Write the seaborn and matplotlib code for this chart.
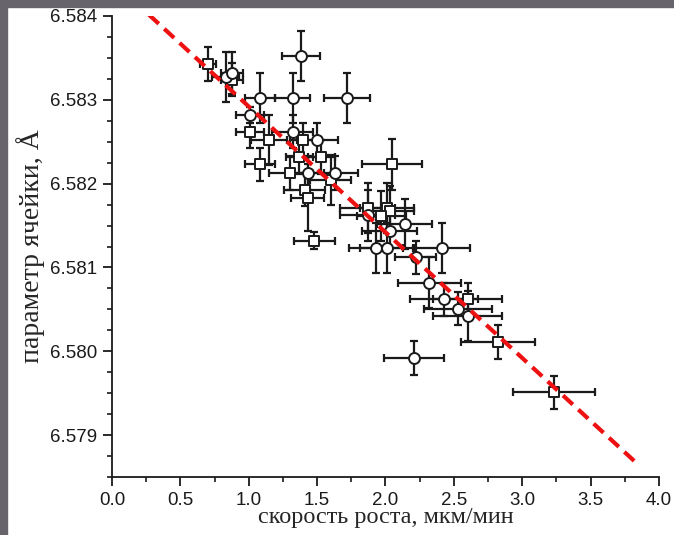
import numpy as np
import pandas as pd
import matplotlib
matplotlib.use('Agg')
import matplotlib.pyplot as plt
from matplotlib.patches import Rectangle
from matplotlib.ticker import MultipleLocator, FormatStrFormatter
import seaborn as sns

# квадраты
sq_x = [0.70, 0.88, 1.01, 1.15, 1.40, 1.37, 1.53, 1.08, 1.30, 1.41, 1.43, 1.48,
        2.05, 1.60, 1.87, 2.01, 2.03, 1.97, 2.60, 2.82, 3.23]
sq_y = [6.58343, 6.58324, 6.58262, 6.58252, 6.58252, 6.58232, 6.58232, 6.58223,
        6.58213, 6.58193, 6.58183, 6.58132, 6.58223, 6.58204, 6.58171, 6.58171,
        6.58167, 6.58161, 6.58062, 6.58011, 6.57951]
sq_xerr = [0.06, 0.08, 0.10, 0.13, 0.10, 0.10, 0.10, 0.11, 0.15, 0.15, 0.12, 0.15,
           0.22, 0.15, 0.20, 0.20, 0.18, 0.18, 0.25, 0.27, 0.30]
sq_yerr = [0.0002, 0.0002, 0.0002, 0.0003, 0.0002, 0.0002, 0.0002, 0.0002,
           0.0002, 0.0002, 0.0004, 0.0001, 0.0003, 0.0003, 0.0003, 0.0003,
           0.0003, 0.0003, 0.0002, 0.0002, 0.0002]

# кружки
ci_x = [0.83, 0.88, 1.38, 1.08, 1.32, 1.72, 1.01, 1.32, 1.50, 1.43, 1.63, 1.87,
        2.14, 2.03, 1.93, 2.01, 2.41, 2.22, 2.32, 2.43, 2.53, 2.60, 2.21]
ci_y = [6.58327, 6.58332, 6.58352, 6.58302, 6.58302, 6.58302, 6.58282, 6.58262,
        6.58252, 6.58213, 6.58213, 6.58162, 6.58152, 6.58143, 6.58123, 6.58123,
        6.58123, 6.58112, 6.58082, 6.58062, 6.58051, 6.58042, 6.57992]
ci_xerr = [0.10, 0.08, 0.14, 0.11, 0.13, 0.17, 0.10, 0.15, 0.15, 0.12, 0.17, 0.20,
           0.20, 0.20, 0.20, 0.20, 0.21, 0.15, 0.23, 0.25, 0.25, 0.25, 0.22]
ci_yerr = [0.0003, 0.00025, 0.0003, 0.0003, 0.0003, 0.0003, 0.0001, 0.0002,
           0.0002, 0.0002, 0.0002, 0.0003, 0.0003, 0.0002, 0.0003, 0.0003,
           0.0003, 0.0002, 0.0003, 0.0002, 0.0002, 0.0003, 0.0002]

# линейная аппроксимация
fit_x = [0.27, 3.82]
fit_a, fit_b = 6.58442, -0.0015

sns.set_style('ticks')
plt.rcParams['font.family'] = ['Liberation Sans', 'DejaVu Sans']

fig = plt.figure(figsize=(6.74, 5.35), dpi=100)
ax = fig.add_axes([0.1662, 0.1084, 0.8115, 0.8617])

for xs, ys, xe, ye in [(sq_x, sq_y, sq_xerr, sq_yerr), (ci_x, ci_y, ci_xerr, ci_yerr)]:
    ax.errorbar(xs, ys, xerr=xe, yerr=ye, fmt='none', ecolor='#1a1a1a',
                elinewidth=1.6, capsize=3, capthick=1.6, zorder=2)

sq = pd.DataFrame({'x': sq_x, 'y': sq_y})
ci = pd.DataFrame({'x': ci_x, 'y': ci_y})
sns.scatterplot(data=sq, x='x', y='y', marker='s', s=45, color='white',
                edgecolor='#1a1a1a', linewidth=1.4, ax=ax, zorder=3)
sns.scatterplot(data=ci, x='x', y='y', marker='o', s=62, color='white',
                edgecolor='#1a1a1a', linewidth=1.4, ax=ax, zorder=3)

fit = pd.DataFrame({'x': fit_x, 'y': [fit_a + fit_b * v for v in fit_x]})
sns.lineplot(data=fit, x='x', y='y', color='#ee1111', linewidth=3.0,
             dashes=False, ax=ax, zorder=4)
ax.lines[-1].set_linestyle((0, (3.2, 1.8)))

ax.set_xlim(0, 4)
ax.set_ylim(6.5785, 6.584)
ax.xaxis.set_major_locator(MultipleLocator(0.5))
ax.xaxis.set_minor_locator(MultipleLocator(0.25))
ax.yaxis.set_major_locator(MultipleLocator(0.001))
ax.yaxis.set_minor_locator(MultipleLocator(0.00025))
ax.xaxis.set_major_formatter(FormatStrFormatter('%.1f'))
ax.yaxis.set_major_formatter(FormatStrFormatter('%.3f'))
ax.tick_params(which='major', direction='out', length=6.5, width=1.3,
               labelsize=13.5, colors='#1a1a1a', pad=4)
ax.tick_params(which='minor', direction='out', length=3.8, width=1.2, colors='#1a1a1a')
for s in ['top', 'right']:
    ax.spines[s].set_visible(False)
for s in ['left', 'bottom']:
    ax.spines[s].set_linewidth(1.3)
    ax.spines[s].set_color('#1a1a1a')

ax.set_xlabel('скорость роста, мкм/мин', family=['Liberation Serif', 'DejaVu Serif'],
              fontsize=17.5, labelpad=-1)
ax.set_ylabel('параметр ячейки, Å', family=['Liberation Serif', 'DejaVu Serif'],
              fontsize=20, labelpad=4)

# серая рамка сверху и слева
fig.patches.append(Rectangle((0, 1 - 7 / 535), 1, 7 / 535, transform=fig.transFigure,
                             color='#67646b', zorder=10))
fig.patches.append(Rectangle((0, 0), 7 / 674, 1, transform=fig.transFigure,
                             color='#67646b', zorder=10))

fig.savefig('out.png', dpi=100)
